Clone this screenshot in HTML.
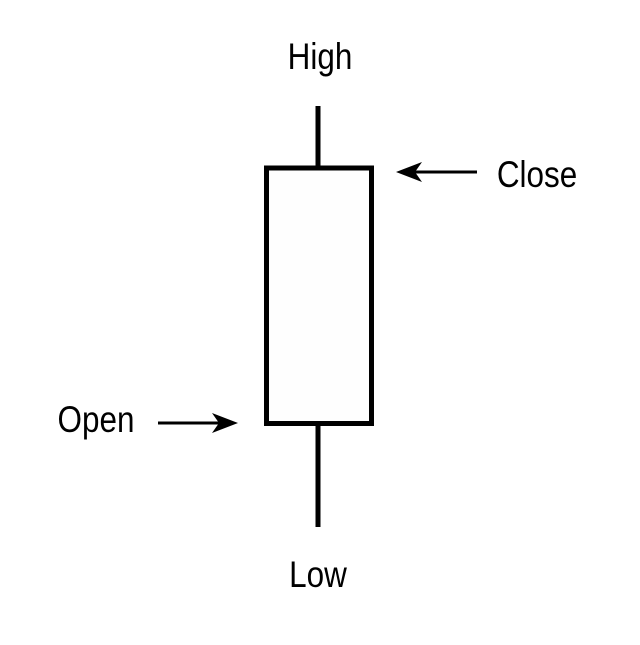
<!DOCTYPE html>
<html><head><style>html,body{margin:0;padding:0;background:#fff;}</style></head>
<body>
<svg width="640" height="640" viewBox="0 0 640 640" xmlns="http://www.w3.org/2000/svg">
<rect width="640" height="640" fill="#fff"/>
<line x1="318" y1="106" x2="318" y2="168" stroke="#000" stroke-width="5"/>
<line x1="318" y1="423" x2="318" y2="527" stroke="#000" stroke-width="5"/>
<rect x="266.5" y="168" width="105" height="255.5" fill="#fefefe" stroke="#000" stroke-width="5"/>
<line x1="412" y1="172" x2="477" y2="172" stroke="#000" stroke-width="3"/>
<path d="M396 172 L422 162 L415 172 L422 182 Z" fill="#000"/>
<line x1="158" y1="423" x2="222" y2="423" stroke="#000" stroke-width="3"/>
<path d="M238 423 L212 413 L219 423 L212 433 Z" fill="#000"/>
<g font-family="Liberation Sans, sans-serif" font-size="37" fill="#000">
<text x="0" y="0" transform="translate(320,69) scale(0.85,1)" text-anchor="middle">High</text>
<text x="0" y="0" transform="translate(537,187) scale(0.85,1)" text-anchor="middle">Close</text>
<text x="0" y="0" transform="translate(96,432) scale(0.85,1)" text-anchor="middle">Open</text>
<text x="0" y="0" transform="translate(318,587) scale(0.85,1)" text-anchor="middle">Low</text>
</g>
</svg>
</body></html>
